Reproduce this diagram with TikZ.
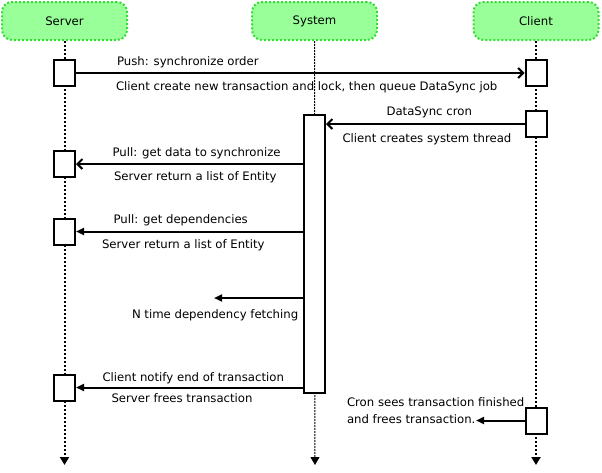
\documentclass[tikz,border=0pt]{standalone}
\usepackage{fontspec}
\setmainfont{DejaVu Sans}
\usepackage{tikz}
\usetikzlibrary{arrows.meta,positioning}
\definecolor{headfill}{RGB}{153,255,153}
\definecolor{headline}{RGB}{51,221,51}

\begin{document}
\begin{tikzpicture}[x=1pt,y=-1pt,line width=2pt,font=\fontsize{11.7}{16.7}\selectfont,
    head/.style={draw=headline,fill=headfill,dotted,rounded corners=10pt,minimum width=125pt,minimum height=38pt,inner sep=0pt},
    act/.style={draw,fill=white,minimum width=21pt,minimum height=26pt,inner sep=0pt},
    life/.style={dotted,-{Triangle[length=8pt,width=9pt]}},
    sync/.style={-{Straight Barb[length=5pt,width=10pt]}},
    async/.style={-{Triangle[length=8pt,width=7pt]}},
    lbl/.style={anchor=base west,inner sep=0pt}]

    \useasboundingbox (0,0) rectangle (602,472);

    % The actors
    \node [head] at (64.5,21) (srv) {Server};
    \node [head] at (314.5,21) (sys) {System};
    \node [head] at (536,21) (cli) {Client};

    \coordinate (srvend) at (64.5,465);
    \coordinate (sysend) at (315,465);
    \coordinate (cliend) at (536,465);

    % Life lines
    \path[life]
    (srv) edge (srvend)
    (cli) edge (cliend);
    \path[life,line width=1pt,dash pattern=on 2pt off 1pt]
    (sys) edge (sysend);

    % Activations
    \node [act] at (64.5,73) (s1) {};
    \node [act] at (64.5,164) (s2) {};
    \node [act] at (64.5,231.5) (s3) {};
    \node [act] at (64.5,387.5) (s4) {};
    \node [act] at (536,73) (c1) {};
    \node [act] at (536,124) (c2) {};
    \node [act] at (536,420.5) (c3) {};
    \node [act,minimum height=278pt] at (314.5,254) (run) {};

    \coordinate (nend) at (214,298);
    \coordinate (cend) at (476,420.5);

    % Messages
    \path[sync]
    (s1.east) edge (c1.west)
    (c2.west) edge (c2.west -| run.east)
    (run.west |- s2.east) edge (s2.east);

    \path[async]
    (run.west |- s3.east) edge (s3.east)
    (run.west |- nend) edge (nend)
    (run.west |- s4.east) edge (s4.east)
    (c3.west) edge (cend);

    % Labels
    \node [lbl] at (116,65) (l1) {Push: synchronize order};
    \node [lbl] at (115,90) (l2) {Client create new transaction and lock, then queue DataSync job};
    \node [lbl] at (385.5,115.5) (l3) {DataSync cron};
    \node [lbl] at (341.5,142.5) (l4) {Client creates system thread};
    \node [lbl] at (111.5,156) (l5) {Pull: get data to synchronize};
    \node [lbl] at (113,180) (l6) {Server return a list of Entity};
    \node [lbl] at (112.5,223.5) (l7) {Pull: get dependencies};
    \node [lbl] at (101,248.5) (l8) {Server return a list of Entity};
    \node [lbl] at (131,318) (l9) {N time dependency fetching};
    \node [lbl] at (101.5,381.5) (l10) {Client notify end of transaction};
    \node [lbl] at (110.5,402) (l11) {Server frees transaction};
    \node [lbl,align=left,anchor=north west] at (346,396.5) (l12) {Cron sees transaction finished\\and frees transaction.};

\end{tikzpicture}
\end{document}
